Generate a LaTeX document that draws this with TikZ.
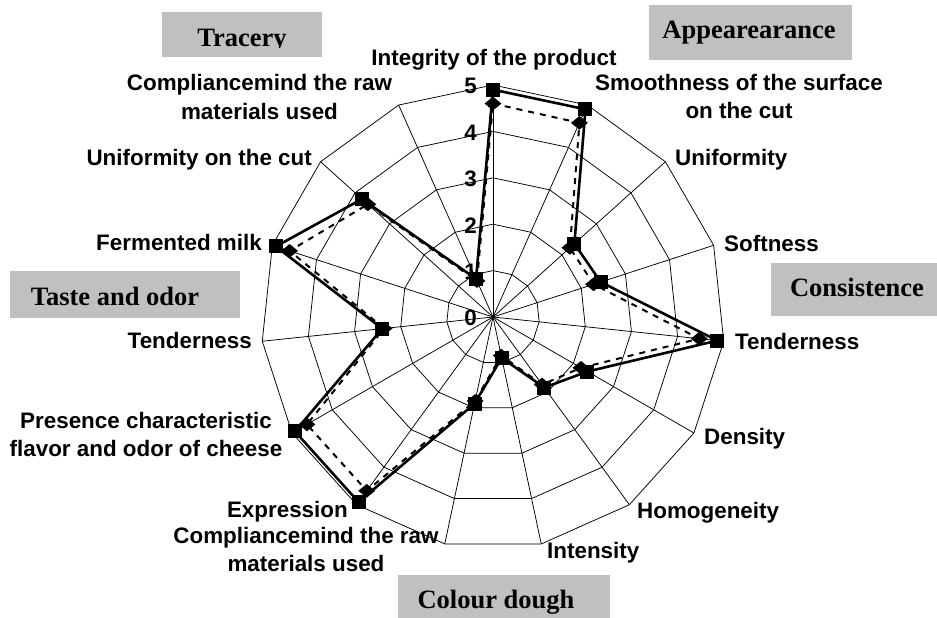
\documentclass[tikz,border=0pt]{standalone}
\usepackage{fontspec}
\setmainfont{Liberation Sans}
\newfontfamily\titlefont{Liberation Serif}
\usetikzlibrary{shapes.geometric}
\definecolor{boxgray}{HTML}{C0C0C0}
\begin{document}
\begin{tikzpicture}[x=1pt,y=-1pt,
  gridline/.style={line width=0.75pt,black},
  solidser/.style={line width=2.6pt,black,line join=miter},
  dashser/.style={line width=2pt,black,dash pattern=on 6pt off 6pt},
  sqmark/.style={rectangle,fill=black,minimum size=14pt,inner sep=0pt},
  dmmark/.style={diamond,fill=black,minimum width=17pt,minimum height=14pt,inner sep=0pt},
  lab/.style={font=\fontsize{22.4}{28.5}\selectfont\bfseries,inner sep=0pt,align=center},
  num/.style={font=\fontsize{22.4}{28}\selectfont\bfseries,inner sep=0pt,anchor=east},
  catbox/.style={fill=boxgray,draw=none},
  cattext/.style={font=\titlefont\fontsize{26.5}{30}\selectfont\bfseries,inner sep=0pt,anchor=base}
]
\useasboundingbox (0,0) rectangle (937,618);

% category boxes
\path[catbox] (162,12) rectangle (322,57);
\begin{scope}
  \clip (162,12) rectangle (322,48);
  \node[cattext] (tracery) at (242,46.5) {Tracery};
\end{scope}
\path[catbox] (649,5) rectangle (852,60);
\node[cattext] (appear) at (749,39) {Appearearance};
\path[catbox] (10,271) rectangle (240,318);
\node[cattext] (taste) at (115,305) {Taste and odor};
\path[catbox] (771,263) rectangle (937,316);
\node[cattext] (consist) at (857,296.5) {Consistence};
\path[catbox] (398,575) rectangle (610,618);
\node[cattext] (colour) at (496,608) {Colour dough};

% grid coordinates
\coordinate (O) at (493,317);
\foreach \i in {0,...,14} {
  \pgfmathsetmacro\ang{90-24*\i}
  \foreach \k in {1,...,5} {
    \coordinate (g\k-\i) at ({493+46.4*\k*cos(\ang)},{317-46.4*\k*sin(\ang)});
  }
}
\foreach \i in {0,...,14} \draw[gridline] (O) -- (g5-\i);
\foreach \k in {1,...,5} \draw[gridline] (g\k-0) \foreach \i in {1,...,14}{ -- (g\k-\i)} -- cycle;

% data
\def\svals{{4.9,4.9,2.36,2.44,4.86,2.35,1.88,0.9,1.91,4.93,4.93,2.4,4.92,3.8,0.9}}
\def\dvals{{4.6,4.58,2.23,2.28,4.47,2.19,1.8,0.85,1.85,4.63,4.63,2.36,4.61,3.63,0.85}}
\foreach \i in {0,...,14} {
  \pgfmathsetmacro\ang{90-24*\i}
  \pgfmathsetmacro\sv{\svals[\i]}
  \pgfmathsetmacro\dv{\dvals[\i]}
  \coordinate (s\i) at ({493+46.4*\sv*cos(\ang)},{317-46.4*\sv*sin(\ang)});
  \coordinate (d\i) at ({493+46.4*\dv*cos(\ang)},{317-46.4*\dv*sin(\ang)});
}
\draw[dashser] (d0) \foreach \i in {1,...,14}{ -- (d\i)} -- cycle;
\foreach \i in {0,...,14} \node[dmmark] (dm\i) at (d\i) {};
\draw[solidser] (s0) \foreach \i in {1,...,14}{ -- (s\i)} -- cycle;
\foreach \i in {0,...,14} \node[sqmark] (sm\i) at (s\i) {};

% scale numbers
\foreach \k in {0,...,5} \node[num] (n\k) at (477,{318-46.4*\k}) {\k};

% axis labels
\node[lab,anchor=base] (l0) at (494,66) {Integrity of the product};
\node[lab,anchor=base] (l1) at (739,118.5) {Smoothness of the surface\\on the cut};
\node[lab,anchor=base west] (l2) at (675,165) {Uniformity};
\node[lab,anchor=base west] (l3) at (724,251) {Softness};
\node[lab,anchor=base west] (l4) at (735,349) {Tenderness};
\node[lab,anchor=base west] (l5) at (704,444) {Density};
\node[lab,anchor=base west] (l6) at (637,518) {Homogeneity};
\node[lab,anchor=base west] (l7) at (547,558) {Intensity};
\node[lab,anchor=base] (l8) at (306,571.5) {Compliancemind the raw\\materials used};
\node[lab,anchor=base east] (l9) at (348,517) {Expression};
\node[lab,anchor=base] (l10) at (146,456.5) {Presence characteristic\\flavor and odor of cheese};
\node[lab,anchor=base east] (l11) at (252,348) {Tenderness};
\node[lab,anchor=base east] (l12) at (262,250) {Fermented milk};
\node[lab,anchor=base east] (l13) at (312,165) {Uniformity on the cut};
\node[lab,anchor=base] (l14) at (259.5,119.5) {Compliancemind the raw\\materials used};
\end{tikzpicture}
\end{document}
